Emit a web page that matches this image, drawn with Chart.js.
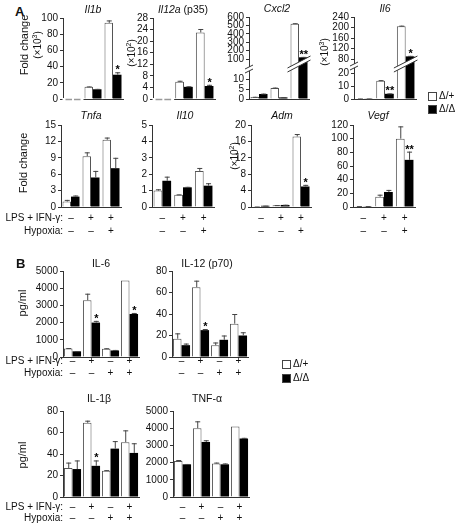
<!DOCTYPE html>
<html lang="en">
<head>
<meta charset="UTF-8">
<title>Cytokine expression, Δ/+ vs Δ/Δ</title>
<style>
  body { margin: 0; background: #fff; font-family: 'Liberation Sans', Arial, sans-serif; color: #111; }
  #fig { position: relative; width: 467px; height: 527px; overflow: hidden; }
  #fig canvas { position: absolute; }
  .t { position: absolute; white-space: nowrap; font-size: 10px; line-height: 1; }
  .box { position: absolute; width: 7px; height: 7px; border: 1px solid #444; }
</style>
</head>
<body>
<div id="fig"></div>

<script src="https://cdn.jsdelivr.net/npm/chart.js"></script>
<script>
  // ---- data ----
  const groupsA = ['Ctrl', 'LPS + IFN-γ', 'LPS + IFN-γ + hypoxia'];
  const groupsB = ['Ctrl', 'LPS + IFN-γ', 'Hypoxia', 'LPS + IFN-γ + hypoxia'];
  const lpsA = ['–', '+', '+'];
  const hypA = ['–', '–', '+'];
  const lpsB = ['–', '+', '–', '+'];
  const hypB = ['–', '–', '+', '+'];

  // panel A, top row (null = not detected)
  const il1bHet = [null, 15, 94];    const il1bHetErr = [0, 0.5, 3];
  const il1bKo = [null, 12, 30];     const il1bKoErr = [0, 0.5, 3];
  const il1bStars = ['', '', '*'];
  const il12aHet = [null, 6, 23];    const il12aHetErr = [0, 0.3, 1.2];
  const il12aKo = [null, 4.2, 4.5];  const il12aKoErr = [0, 0.2, 0.4];
  const il12aStars = ['', '', '*'];
  const cxcl2Het = [1.0, 5.5, 520];  const cxcl2HetErr = [0.1, 0.2, 6];
  const cxcl2Ko = [2.5, 0.8, 120];   const cxcl2KoErr = [0.2, 0.1, 5];
  const cxcl2Stars = ['', '', '**'];
  const cxcl2Ticks = [0, 5, 10, 100, 200, 300, 400, 500, 600];
  const il6Het = [0.3, 14, 205];     const il6HetErr = [0.1, 0.5, 2];
  const il6Ko = [0.3, 4, 90];        const il6KoErr = [0.1, 0.3, 2];
  const il6Stars = ['', '**', '*'];
  const il6Ticks = [0, 10, 20, 80, 120, 160, 200, 240];

  // panel A, bottom row
  const tnfaHet = [1.0, 9.3, 12.3];  const tnfaHetErr = [0.3, 0.7, 0.4];
  const tnfaKo = [1.9, 5.4, 7.1];    const tnfaKoErr = [0.2, 1.2, 1.9];
  const il10Het = [1.0, 0.75, 2.2];  const il10HetErr = [0.08, 0.02, 0.18];
  const il10Ko = [1.6, 1.2, 1.3];    const il10KoErr = [0.25, 0.03, 0.15];
  const admHet = [0.1, 0.4, 17.2];   const admHetErr = [0.02, 0.05, 0.6];
  const admKo = [0.3, 0.5, 5.0];     const admKoErr = [0.03, 0.05, 0.4];
  const admStars = ['', '', '*'];
  const vegfHet = [1, 15, 100];      const vegfHetErr = [0.3, 3, 18];
  const vegfKo = [1, 22, 69];        const vegfKoErr = [0.3, 3, 12];
  const vegfStars = ['', '', '**'];

  // panel B (pg/ml)
  const il6pHet = [500, 3300, 480, 4450];  const il6pHetErr = [20, 380, 30, 0];
  const il6pKo = [330, 2000, 380, 2500];   const il6pKoErr = [10, 100, 30, 60];
  const il6pStars = ['', '*', '', '*'];
  const il12pHet = [17, 65, 11, 31];       const il12pHetErr = [5, 6, 2.5, 9];
  const il12pKo = [11, 25, 16, 20];        const il12pKoErr = [1.5, 1, 4, 3];
  const il12pStars = ['', '*', '', ''];
  const il1bpHet = [27, 69, 24.5, 51];     const il1bpHetErr = [5, 2, 0.5, 11];
  const il1bpKo = [26, 29, 45, 41];        const il1bpKoErr = [8, 5, 7, 9];
  const il1bpStars = ['', '*', '', ''];
  const tnfpHet = [2100, 4000, 1950, 4100]; const tnfpHetErr = [50, 400, 50, 0];
  const tnfpKo = [1900, 3200, 1900, 3400];  const tnfpKoErr = [20, 100, 50, 40];

  // ---- helpers ----
  const FONT = "'Liberation Sans', Arial, sans-serif";
  const fig = document.getElementById('fig');

  function label(x, y, html, opt) {
    opt = opt || {};
    const d = document.createElement('div');
    d.className = 't';
    d.innerHTML = html;
    d.style.left = x + 'px';
    d.style.top = y + 'px';
    if (opt.size) d.style.fontSize = opt.size + 'px';
    if (opt.bold) d.style.fontWeight = 'bold';
    if (opt.italic) d.style.fontStyle = 'italic';
    const ax = opt.a === 'r' ? '-100%' : opt.a === 'l' ? '0' : '-50%';
    d.style.transform = 'translate(' + ax + ',-50%)' + (opt.rot ? ' rotate(-90deg)' : '');
    fig.appendChild(d);
  }

  function box(x, y, fill) {
    const b = document.createElement('div');
    b.className = 'box';
    b.style.left = x + 'px';
    b.style.top = y + 'px';
    b.style.background = fill;
    fig.appendChild(b);
  }

  // broken axis: value -> pixels above baseline
  function brkMap(b, v) {
    if (v <= b.loMax) return v * b.loPx / b.loMax;
    return b.hiPx0 + (v - b.hiMin) * (b.hiPx1 - b.hiPx0) / (b.hiMax - b.hiMin);
  }

  const YW = 34, PT = 10, PB = 10;

  function makeChart(o) {
    const cv = document.createElement('canvas');
    const w = YW + o.w + 6;
    const h = o.y0 - o.y1 + PT + PB;
    cv.width = w; cv.height = h;
    cv.style.left = (o.ax - YW) + 'px';
    cv.style.top = (o.y1 - PT) + 'px';
    fig.appendChild(cv);

    const tr = o.brk ? v => brkMap(o.brk, v) : v => v;
    const catPct = o.labels.length === 3 ? 0.85 : 0.9;

    const extras = {
      id: 'extras',
      afterDatasetsDraw(chart) {
        const ctx = chart.ctx;
        const y = chart.scales.y;
        const m0 = chart.getDatasetMeta(0).data;
        const m1 = chart.getDatasetMeta(1).data;
        const base = y.getPixelForValue(0);
        ctx.save();

        // not-detected groups: grey dashes on the baseline
        o.het.forEach((v, i) => {
          if (v !== null) return;
          ctx.fillStyle = '#fff';
          ctx.fillRect(m0[i].x - m0[i].width / 2 - 2, base - 1, m1[i].x - m0[i].x + m0[i].width + 4, 3);
          ctx.strokeStyle = '#999';
          ctx.lineWidth = 1.5;
          [m0[i], m1[i]].forEach(el => {
            ctx.beginPath();
            ctx.moveTo(el.x - el.width / 2 + 1, base + 0.5);
            ctx.lineTo(el.x + el.width / 2 - 1, base + 0.5);
            ctx.stroke();
          });
        });

        // axis break + slanted band through the tallest group
        if (o.brk) {
          const ax = chart.chartArea.left;
          const yb = y.getPixelForValue(o.brk.axis);
          ctx.fillStyle = '#fff';
          ctx.fillRect(ax - 2, yb - 2, 4, 4);
          ctx.strokeStyle = '#333';
          ctx.lineWidth = 1;
          [-2, 2].forEach(d => {
            ctx.beginPath();
            ctx.moveTo(ax - 4, yb + d + 2);
            ctx.lineTo(ax + 4, yb + d - 2);
            ctx.stroke();
          });
          const i = o.brk.group;
          const xl = m0[i].x - m0[i].width / 2 - 3;
          const xr = m1[i].x + m1[i].width / 2 + 3;
          const yc = y.getPixelForValue(o.brk.band);
          const s = 6;
          ctx.fillStyle = '#fff';
          ctx.beginPath();
          ctx.moveTo(xl, yc + s + 2);
          ctx.lineTo(xr, yc - s + 2);
          ctx.lineTo(xr, yc - s - 2);
          ctx.lineTo(xl, yc + s - 2);
          ctx.closePath();
          ctx.fill();
          [2, -2].forEach(d => {
            ctx.beginPath();
            ctx.moveTo(xl, yc + s + d);
            ctx.lineTo(xr, yc - s + d);
            ctx.stroke();
          });
        }

        // error bars (upward only) and significance stars
        [[o.het, o.hetErr, m0], [o.ko, o.koErr, m1]].forEach(([vals, errs, els], k) => {
          vals.forEach((v, i) => {
            if (v === null) return;
            const el = els[i];
            const yTop = y.getPixelForValue(tr(v));
            let yEnd = yTop;
            if (errs[i] > 0) {
              yEnd = y.getPixelForValue(tr(v + errs[i]));
              ctx.strokeStyle = '#444';
              ctx.lineWidth = 1;
              ctx.beginPath();
              ctx.moveTo(el.x + 0.5, yTop);
              ctx.lineTo(el.x + 0.5, yEnd);
              ctx.moveTo(el.x - 2, yEnd + 0.5);
              ctx.lineTo(el.x + 3, yEnd + 0.5);
              ctx.stroke();
            }
            if (k === 1 && o.stars && o.stars[i]) {
              ctx.fillStyle = '#000';
              ctx.font = 'bold 11px ' + FONT;
              ctx.textAlign = 'center';
              ctx.textBaseline = 'alphabetic';
              ctx.fillText(o.stars[i], el.x + 0.5, yEnd + 1);
            }
          });
        });
        ctx.restore();
      }
    };

    const yScale = {
      min: 0,
      max: o.brk ? o.brk.top : o.max,
      grid: { drawOnChartArea: false, drawTicks: true, tickLength: 3, color: '#333' },
      border: { color: '#333', width: 1 },
      ticks: {
        font: { size: 10, family: FONT },
        color: '#111',
        padding: 2,
        autoSkip: false,
        stepSize: o.step,
        callback: v => String(v)
      },
      afterFit: s => { s.width = YW; }
    };
    if (o.brk) {
      yScale.afterBuildTicks = s => { s.ticks = o.brk.ticks.map(v => ({ value: tr(v) })); };
      yScale.ticks.callback = (v, i) => String(o.brk.ticks[i]);
    }

    const chart = new Chart(cv, {
      type: 'bar',
      data: {
        labels: o.labels,
        datasets: [
          {
            label: 'Δ/+',
            data: o.het.map(v => v === null ? null : tr(v)),
            backgroundColor: '#fff',
            borderColor: '#555',
            borderWidth: 1,
            categoryPercentage: catPct,
            barPercentage: 1.0
          },
          {
            label: 'Δ/Δ',
            data: o.ko.map(v => v === null ? null : tr(v)),
            backgroundColor: '#000',
            borderWidth: 0,
            categoryPercentage: catPct,
            barPercentage: 1.0
          }
        ]
      },
      options: {
        responsive: false,
        animation: false,
        layout: { padding: { top: PT, bottom: PB, left: 0, right: 6 } },
        plugins: { legend: { display: false }, tooltip: { enabled: false } },
        scales: {
          x: {
            offset: true,
            grid: { display: false },
            border: { display: true, color: '#333', width: 1 },
            ticks: { display: false },
            afterFit: s => { s.height = 0; }
          },
          y: yScale
        }
      },
      plugins: [extras]
    });

    // condition rows under the bars
    if (o.symY) {
      const left = o.ax - YW;
      o.labels.forEach((_, i) => {
        const x = left + chart.scales.x.getPixelForValue(i);
        label(x, o.symY[0], o.lps[i]);
        label(x, o.symY[1], o.hyp[i]);
      });
    }
    return chart;
  }

  // ---- panel A, top row ----
  makeChart({ ax: 63, w: 60, y1: 18, y0: 99, labels: groupsA, max: 100, step: 20,
    het: il1bHet, hetErr: il1bHetErr, ko: il1bKo, koErr: il1bKoErr, stars: il1bStars });
  makeChart({ ax: 153, w: 62, y1: 18, y0: 99, labels: groupsA, max: 28, step: 4,
    het: il12aHet, hetErr: il12aHetErr, ko: il12aKo, koErr: il12aKoErr, stars: il12aStars });
  makeChart({ ax: 249, w: 60, y1: 17, y0: 99, labels: groupsA,
    het: cxcl2Het, hetErr: cxcl2HetErr, ko: cxcl2Ko, koErr: cxcl2KoErr, stars: cxcl2Stars,
    brk: { loMax: 10, loPx: 20, hiMin: 100, hiMax: 600, hiPx0: 40, hiPx1: 82, top: 82,
           axis: 30, band: 35, group: 2, ticks: cxcl2Ticks } });
  makeChart({ ax: 354, w: 62, y1: 17, y0: 99, labels: groupsA,
    het: il6Het, hetErr: il6HetErr, ko: il6Ko, koErr: il6KoErr, stars: il6Stars,
    brk: { loMax: 20, loPx: 26, hiMin: 80, hiMax: 240, hiPx0: 40, hiPx1: 82, top: 82,
           axis: 33, band: 35, group: 2, ticks: il6Ticks } });

  // ---- panel A, bottom row ----
  const symA = [218, 231];
  makeChart({ ax: 61, w: 60, y1: 125, y0: 207, labels: groupsA, max: 15, step: 3,
    het: tnfaHet, hetErr: tnfaHetErr, ko: tnfaKo, koErr: tnfaKoErr, symY: symA, lps: lpsA, hyp: hypA });
  makeChart({ ax: 152, w: 62, y1: 125, y0: 207, labels: groupsA, max: 5, step: 1,
    het: il10Het, hetErr: il10HetErr, ko: il10Ko, koErr: il10KoErr, symY: symA, lps: lpsA, hyp: hypA });
  makeChart({ ax: 251, w: 60, y1: 125, y0: 207, labels: groupsA, max: 20, step: 4,
    het: admHet, hetErr: admHetErr, ko: admKo, koErr: admKoErr, stars: admStars, symY: symA, lps: lpsA, hyp: hypA });
  makeChart({ ax: 353, w: 62, y1: 125, y0: 207, labels: groupsA, max: 120, step: 20,
    het: vegfHet, hetErr: vegfHetErr, ko: vegfKo, koErr: vegfKoErr, stars: vegfStars, symY: symA, lps: lpsA, hyp: hypA });

  // ---- panel B ----
  const symB1 = [361, 373];
  const symB2 = [507, 518];
  makeChart({ ax: 63, w: 76, y1: 271, y0: 357, labels: groupsB, max: 5000, step: 1000,
    het: il6pHet, hetErr: il6pHetErr, ko: il6pKo, koErr: il6pKoErr, stars: il6pStars, symY: symB1, lps: lpsB, hyp: hypB });
  makeChart({ ax: 172, w: 76, y1: 271, y0: 357, labels: groupsB, max: 80, step: 20,
    het: il12pHet, hetErr: il12pHetErr, ko: il12pKo, koErr: il12pKoErr, stars: il12pStars, symY: symB1, lps: lpsB, hyp: hypB });
  makeChart({ ax: 63, w: 76, y1: 411, y0: 497, labels: groupsB, max: 80, step: 20,
    het: il1bpHet, hetErr: il1bpHetErr, ko: il1bpKo, koErr: il1bpKoErr, stars: il1bpStars, symY: symB2, lps: lpsB, hyp: hypB });
  makeChart({ ax: 173, w: 76, y1: 411, y0: 497, labels: groupsB, max: 5000, step: 1000,
    het: tnfpHet, hetErr: tnfpHetErr, ko: tnfpKo, koErr: tnfpKoErr, symY: symB2, lps: lpsB, hyp: hypB });

  // ---- text ----
  label(15, 11, 'A', { a: 'l', size: 13, bold: true });
  label(16, 263, 'B', { a: 'l', size: 13, bold: true });

  label(93, 9, 'Il1b', { italic: true, size: 10.5 });
  label(183, 9, '<i>Il12a</i> (p35)', { size: 10.5 });
  label(277, 8, 'Cxcl2', { italic: true, size: 10.5 });
  label(385, 8, 'Il6', { italic: true, size: 10.5 });
  label(91, 115, 'Tnfa', { italic: true, size: 10.5 });
  label(185, 115, 'Il10', { italic: true, size: 10.5 });
  label(282, 115, 'Adm', { italic: true, size: 10.5 });
  label(378, 115, 'Vegf', { italic: true, size: 10.5 });

  label(101, 263, 'IL-6', { size: 10.5 });
  label(207, 263, 'IL-12 (p70)', { size: 10.5 });
  label(99, 398, 'IL-1β', { size: 10.5 });
  label(207, 398, 'TNF-α', { size: 10.5 });

  label(24, 45, 'Fold change', { rot: true, size: 11 });
  label(37, 45, '(×10<sup style="font-size:7px">3</sup>)', { rot: true, size: 10 });
  label(131, 53, '(×10<sup style="font-size:7px">2</sup>)', { rot: true, size: 10 });
  label(324, 52, '(×10<sup style="font-size:7px">3</sup>)', { rot: true, size: 10 });
  label(23, 163, 'Fold change', { rot: true, size: 11 });
  label(234, 156, '(×10<sup style="font-size:7px">2</sup>)', { rot: true, size: 10 });
  label(22, 303, 'pg/ml', { rot: true, size: 11 });
  label(22, 455, 'pg/ml', { rot: true, size: 11 });

  [symA, symB1, symB2].forEach(r => {
    label(63, r[0], 'LPS + IFN-γ:', { a: 'r' });
    label(63, r[1], 'Hypoxia:', { a: 'r' });
  });

  // legends
  box(428, 92, '#fff');
  label(439, 96, 'Δ/+', { a: 'l' });
  box(428, 105, '#000');
  label(439, 109, 'Δ/Δ', { a: 'l' });
  box(282, 360, '#fff');
  label(293, 364, 'Δ/+', { a: 'l' });
  box(282, 374, '#000');
  label(293, 378, 'Δ/Δ', { a: 'l' });
</script>
</body>
</html>
